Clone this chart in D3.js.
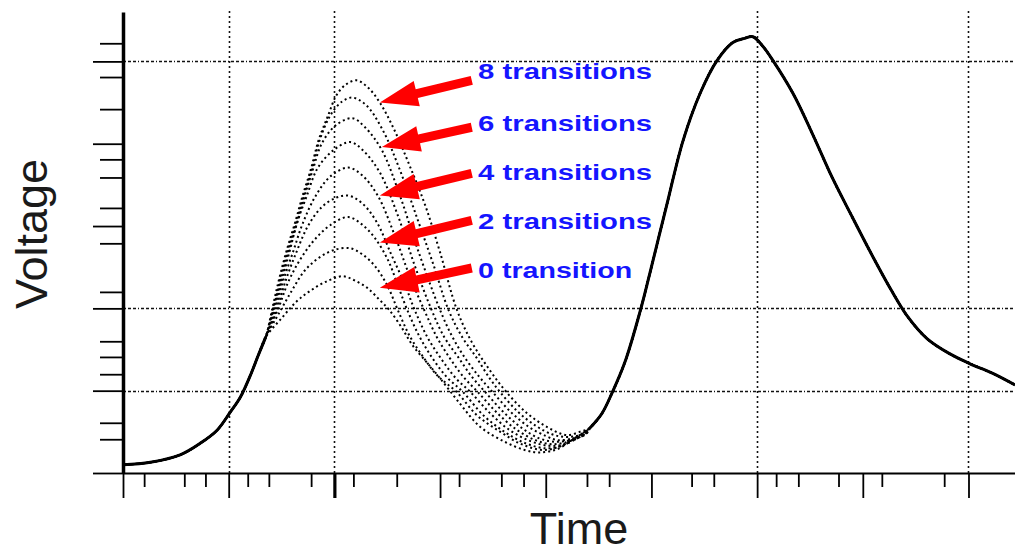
<!DOCTYPE html>
<html>
<head>
<meta charset="utf-8">
<script src="https://cdn.jsdelivr.net/npm/d3@7"></script>
<style>
  body { margin: 0; background: #fff; }
  svg { display: block; }
</style>
</head>
<body>
<div id="chart"></div>
<script>
// units: time in ps, voltage in mV, one grid division = 100 of each

// shared lead-in before the first pulse
const startPath = [[0,10],[26,13],[54,22],[73,36],[89,52],[101,73],[111,92],[120,117],[128,143],[135,165]];

// first pulse, one trace per number of transitions (0..8)
const c0 = [[150,188],[164,208],[178,222],[193,233],[208,239],[219,234],[231,225],[243,210],[252,198],[264,176],[274,155],[287,135],[300,115],[319,84],[338,56],[361,38],[380,28],[394,25],[411,29],[427,42]];
const c1 = [[148,195],[160,222],[172,246],[186,262],[200,271],[215,273],[226,266],[238,252],[250,228],[260,198],[271,167],[284,141],[297,119],[316,98],[335,70],[357,50],[377,35],[397,28],[413,32],[429,44]];
const c2 = [[147,200],[156,231],[167,258],[181,283],[196,301],[213,311],[226,302],[238,286],[251,258],[260,228],[269,198],[280,167],[292,141],[306,117],[322,98],[341,70],[361,50],[381,36],[400,30],[415,33],[430,44]];
const c3 = [[146,201],[154,234],[164,268],[175,300],[188,323],[201,334],[213,337],[226,328],[240,305],[254,265],[267,228],[276,198],[288,165],[302,137],[315,115],[329,98],[347,73],[366,52],[385,39],[403,33],[418,35],[432,44]];
const c4 = [[145,203],[152,235],[161,269],[170,303],[182,336],[196,360],[213,371],[226,362],[241,337],[257,289],[271,240],[285,198],[297,165],[309,140],[322,117],[336,98],[354,73],[372,53],[390,40],[406,35],[421,38],[434,45]];
const c5 = [[144,204],[151,237],[158,271],[165,305],[174,337],[184,370],[199,392],[215,402],[227,392],[243,365],[260,313],[276,252],[292,198],[304,165],[317,141],[330,117],[343,98],[360,74],[377,55],[394,42],[409,38],[424,40],[436,46]];
const c6 = [[143,204],[150,237],[157,271],[165,305],[172,337],[180,370],[188,400],[201,422],[217,431],[229,420],[245,392],[262,337],[279,271],[300,198],[311,167],[323,141],[337,117],[350,98],[367,74],[384,56],[400,45],[411,40],[426,42],[438,47]];
const c7 = [[143,204],[149,237],[156,271],[164,305],[171,337],[179,370],[186,404],[196,434],[207,451],[217,456],[230,447],[246,416],[262,368],[279,307],[294,252],[308,198],[321,165],[334,141],[347,115],[357,98],[374,74],[391,57],[406,47],[417,44],[429,45],[440,50]];
const c8 = [[142,204],[148,237],[155,271],[163,305],[170,337],[178,370],[185,404],[194,434],[202,459],[211,472],[221,477],[232,468],[243,450],[257,416],[271,374],[286,325],[300,268],[316,198],[330,159],[347,125],[363,98],[382,73],[401,56],[420,46],[432,50]];
const firstPulse = [c0, c1, c2, c3, c4, c5, c6, c7, c8];

// second pulse, the same for every trace
const endPath = [[442,55],[453,72],[463,98],[475,135],[489,195],[498,240],[514,323],[530,404],[546,461],[562,501],[577,523],[588,528],[596,530],[605,519],[615,501],[634,461],[652,413],[671,359],[690,311],[709,264],[727,222],[743,189],[761,163],[782,145],[801,133],[823,121],[844,107]];

// ticks and grid
const yMajor = [0, 100, 200, 300, 400, 500];
const yMinor = [41, 61, 120, 141, 160, 220, 279, 322, 359, 381, 442, 481, 522];
const xMajor = [0, 100, 200, 300, 400, 500, 600, 700, 800];
const xMinor = [20, 58, 78, 118, 138, 178, 218, 259, 318, 358, 379, 439, 460, 538, 559, 618, 639, 677, 718, 777];
const yGrid = [100, 200, 500];
const xGrid = [100, 200, 600, 800];

// annotations
const labelNames = ["8 transitions", "6 transitions", "4 transitions", "2 transitions", "0 transition"];
const labelY = [479, 416, 356, 297, 237];
const labelX = 336;
const arrowTip = [[243,450],[245,396],[243,337],[243,280],[243,225]];
const arrowTail = [[330,477],[330,420],[330,364],[330,307],[330,249]];

const W = 1015, H = 556;

const svg = d3.select("#chart")
    .append("svg")
    .attr("width", W)
    .attr("height", H);

const x = d3.scaleLinear().domain([0, 844]).range([123, 1015]);
const y = d3.scaleLinear().domain([0, 560]).range([473, 12]);

// grid
svg.append("g")
    .selectAll("line")
    .data(yGrid)
    .enter()
    .append("line")
    .attr("x1", x(0))
    .attr("x2", W)
    .attr("y1", d => Math.round(y(d)) + 0.5)
    .attr("y2", d => Math.round(y(d)) + 0.5)
    .attr("stroke", "#111")
    .attr("stroke-width", 1.6)
    .attr("stroke-dasharray", "3,2,3,2,3,2,1,2");

svg.append("g")
    .selectAll("line")
    .data(xGrid)
    .enter()
    .append("line")
    .attr("x1", d => Math.round(x(d)) + 0.5)
    .attr("x2", d => Math.round(x(d)) + 0.5)
    .attr("y1", 11)
    .attr("y2", y(0))
    .attr("stroke", "#111")
    .attr("stroke-width", 1.6)
    .attr("stroke-dasharray", "2,3");

// axes
svg.append("g")
    .attr("transform", `translate(${x(0)},0)`)
    .call(d3.axisLeft(y).tickValues(yMajor).tickSize(30).tickSizeOuter(0).tickFormat(""))
    .call(g => g.select(".domain").attr("stroke-width", 3.5))
    .call(g => g.selectAll(".tick line").attr("stroke-width", 1.8));

svg.append("g")
    .attr("transform", `translate(${x(0)},0)`)
    .call(d3.axisLeft(y).tickValues(yMinor).tickSize(23).tickFormat(""))
    .call(g => g.select(".domain").remove())
    .call(g => g.selectAll(".tick line").attr("stroke-width", 1.8));

svg.append("g")
    .attr("transform", `translate(0,${y(0)})`)
    .call(d3.axisBottom(x).tickValues(xMajor).tickSize(25).tickSizeOuter(0).tickFormat(""))
    .call(g => g.select(".domain").attr("stroke-width", 2))
    .call(g => g.selectAll(".tick line").attr("stroke-width", d => d === 200 ? 3.2 : 1.8));

svg.append("g")
    .attr("transform", `translate(0,${y(0)})`)
    .call(d3.axisBottom(x).tickValues(xMinor).tickSize(14).tickFormat(""))
    .call(g => g.select(".domain").remove())
    .call(g => g.selectAll(".tick line").attr("stroke-width", 1.8));

// traces
const line = d3.line()
    .x(d => x(d[0]))
    .y(d => y(d[1]))
    .curve(d3.curveCatmullRom.alpha(0.5));

// the shared parts are overlaid by all traces and look solid
svg.append("g")
    .selectAll("path")
    .data([startPath, endPath])
    .enter()
    .append("path")
    .attr("d", line)
    .attr("fill", "none")
    .attr("stroke", "#000")
    .attr("stroke-width", 3);

svg.append("g")
    .selectAll("path")
    .data(firstPulse)
    .enter()
    .append("path")
    .attr("d", d => line(startPath.concat(d, endPath)))
    .attr("fill", "none")
    .attr("stroke", "#000")
    .attr("stroke-width", 2)
    .attr("stroke-dasharray", "2,3")
    .attr("stroke-dashoffset", (d, i) => i * 0.56);

// arrows
const arrows = svg.append("g");
arrowTip.forEach((tp, i) => {
    const tx = x(tp[0]), ty = y(tp[1]);
    const ex = x(arrowTail[i][0]), ey = y(arrowTail[i][1]);
    const len = Math.hypot(ex - tx, ey - ty);
    const ux = (ex - tx) / len, uy = (ey - ty) / len;
    const nx = -uy, ny = ux;
    const hl = 38, hw = 13, bw = 4.5;
    const bx = tx + ux * hl, by = ty + uy * hl;
    const pts = [
        [tx, ty],
        [bx + nx * hw, by + ny * hw],
        [bx + nx * bw, by + ny * bw],
        [ex + nx * bw, ey + ny * bw],
        [ex - nx * bw, ey - ny * bw],
        [bx - nx * bw, by - ny * bw],
        [bx - nx * hw, by - ny * hw]
    ];
    arrows.append("polygon")
        .attr("points", pts.map(p => p.join(",")).join(" "))
        .attr("fill", "#ff0000");
});

svg.append("g")
    .selectAll("text")
    .data(labelNames)
    .enter()
    .append("text")
    .attr("x", x(labelX))
    .attr("y", (d, i) => y(labelY[i]))
    .attr("font-family", "Liberation Sans, Arial, sans-serif")
    .attr("font-weight", "bold")
    .attr("font-size", 22)
    .attr("fill", "#1515ff")
    .attr("textLength", d => d.endsWith("s") ? 174 : 154)
    .attr("lengthAdjust", "spacingAndGlyphs")
    .text(d => d);

// axis titles
svg.append("text")
    .attr("transform", "translate(47,234) rotate(-90)")
    .attr("text-anchor", "middle")
    .attr("font-family", "Liberation Sans, Arial, sans-serif")
    .attr("font-size", 45)
    .attr("fill", "#1a1a1a")
    .text("Voltage");

svg.append("text")
    .attr("x", 579)
    .attr("y", 544)
    .attr("text-anchor", "middle")
    .attr("font-family", "Liberation Sans, Arial, sans-serif")
    .attr("font-size", 45)
    .attr("fill", "#1a1a1a")
    .text("Time");
</script>
</body>
</html>
